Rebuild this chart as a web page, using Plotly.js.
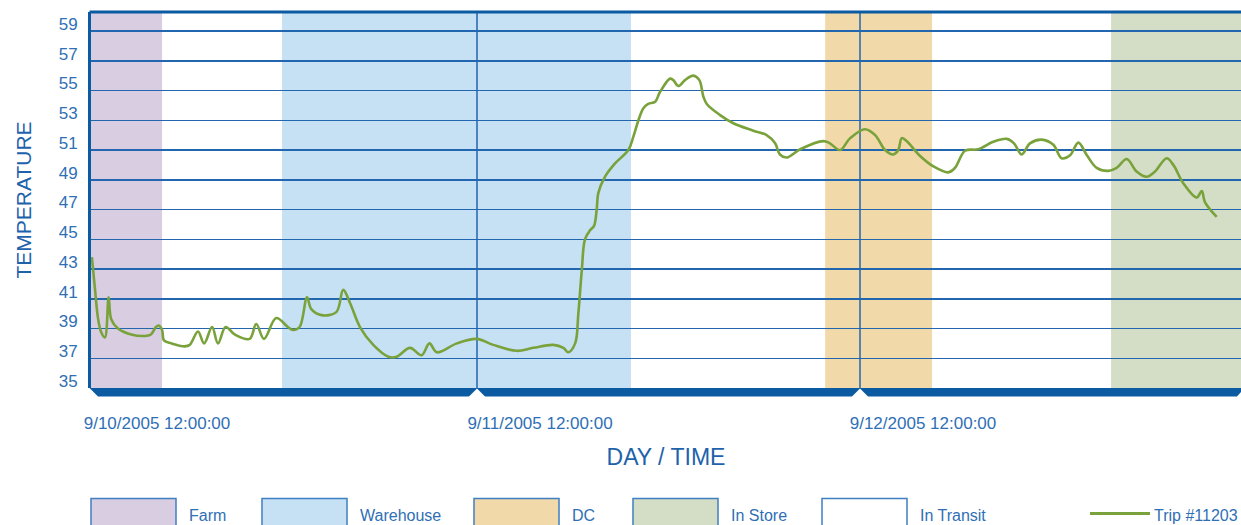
<!DOCTYPE html>
<html>
<head>
<meta charset="utf-8">
<script src="https://cdn.plot.ly/plotly-3.0.1.min.js"></script>
<style>
  html, body { margin: 0; padding: 0; background: #ffffff; }
  #chart { width: 1241px; height: 525px; }
</style>
</head>
<body>
<div id="chart"></div>
<script>
// ---------------- data ----------------
const tripName = 'Trip #11203';

const times = [
  '2005-09-10 11:52','2005-09-10 12:04','2005-09-10 12:15','2005-09-10 12:26','2005-09-10 12:41',
  '2005-09-10 12:55','2005-09-10 13:05','2005-09-10 13:30','2005-09-10 14:20','2005-09-10 15:11',
  '2005-09-10 15:34','2005-09-10 15:53','2005-09-10 16:03','2005-09-10 16:16','2005-09-10 16:23',
  '2005-09-10 16:51','2005-09-10 17:41','2005-09-10 18:00','2005-09-10 18:31','2005-09-10 18:54',
  '2005-09-10 19:24','2005-09-10 19:46','2005-09-10 20:15','2005-09-10 20:49','2005-09-10 21:45',
  '2005-09-10 22:10','2005-09-10 22:39','2005-09-10 23:25','2005-09-11 00:09','2005-09-11 00:28',
  '2005-09-11 00:53','2005-09-11 01:21','2005-09-11 01:37','2005-09-11 02:15','2005-09-11 03:11',
  '2005-09-11 03:37','2005-09-11 04:03','2005-09-11 04:40','2005-09-11 05:30','2005-09-11 06:27',
  '2005-09-11 06:58','2005-09-11 07:48','2005-09-11 08:32','2005-09-11 09:01','2005-09-11 09:29',
  '2005-09-11 10:44','2005-09-11 11:59','2005-09-11 13:01','2005-09-11 14:29','2005-09-11 15:32',
  '2005-09-11 16:47','2005-09-11 17:25','2005-09-11 17:43','2005-09-11 18:09','2005-09-11 18:21',
  '2005-09-11 18:34','2005-09-11 18:46','2005-09-11 19:05','2005-09-11 19:20','2005-09-11 19:30',
  '2005-09-11 19:36','2005-09-11 20:01','2005-09-11 20:39','2005-09-11 21:29','2005-09-11 21:48',
  '2005-09-11 22:07','2005-09-11 22:25','2005-09-11 22:44','2005-09-11 23:10','2005-09-11 23:28',
  '2005-09-12 00:06','2005-09-12 00:18','2005-09-12 00:37','2005-09-12 01:02','2005-09-12 01:33',
  '2005-09-12 01:56','2005-09-12 02:11','2005-09-12 02:24','2005-09-12 03:14','2005-09-12 04:04',
  '2005-09-12 05:19','2005-09-12 06:09','2005-09-12 06:41','2005-09-12 06:59','2005-09-12 07:25',
  '2005-09-12 08:15','2005-09-12 09:42','2005-09-12 10:07','2005-09-12 10:45','2005-09-12 11:23',
  '2005-09-12 12:19','2005-09-12 12:57','2005-09-12 13:34','2005-09-12 14:05','2005-09-12 14:24',
  '2005-09-12 14:37','2005-09-12 14:55','2005-09-12 15:46','2005-09-12 16:36','2005-09-12 17:32',
  '2005-09-12 17:57','2005-09-12 18:35','2005-09-12 19:25','2005-09-12 20:21','2005-09-12 21:12',
  '2005-09-12 21:39','2005-09-12 22:08','2005-09-12 22:39','2005-09-12 23:23','2005-09-13 00:07',
  '2005-09-13 00:38','2005-09-13 01:10','2005-09-13 01:41','2005-09-13 02:13','2005-09-13 02:50',
  '2005-09-13 03:34','2005-09-13 04:05','2005-09-13 04:43','2005-09-13 05:20','2005-09-13 05:58',
  '2005-09-13 06:29','2005-09-13 07:13','2005-09-13 07:38','2005-09-13 08:16','2005-09-13 09:06',
  '2005-09-13 09:25','2005-09-13 09:37','2005-09-13 10:21'
];

const temps = [
  43.8, 41.6, 39.7, 38.8, 38.4,
  41.1, 39.6, 39.0, 38.6, 38.5,
  38.6, 39.1, 39.2, 38.9, 38.2,
  38.0, 37.8, 37.9, 38.8, 38.0,
  39.1, 38.0, 39.1, 38.6, 38.3,
  39.3, 38.3, 39.7, 39.1, 38.9,
  39.1, 41.1, 40.3, 39.9, 40.1,
  41.6, 40.7, 39.1, 37.9, 37.1,
  37.1, 37.7, 37.2, 38.0, 37.4,
  38.0, 38.3, 37.9, 37.5, 37.7,
  37.9, 37.7, 37.4, 38.0, 40.0,
  42.9, 45.0, 45.6, 45.9, 47.0,
  48.1, 49.2, 50.1, 51.0, 51.9,
  53.0, 53.8, 54.1, 54.25, 54.9,
  55.8, 55.7, 55.3, 55.7, 56.0,
  55.7, 54.6, 54.1, 53.35, 52.8,
  52.3, 52.0, 51.45, 50.7, 50.5,
  51.05, 51.6, 51.45, 51.0, 51.8,
  52.4, 52.0, 51.0, 50.7, 51.0,
  51.8, 51.6, 50.6, 49.9, 49.5,
  49.8, 50.95, 51.05, 51.55, 51.75,
  51.45, 50.7, 51.45, 51.7, 51.35,
  50.45, 50.65, 51.5, 50.65, 49.8,
  49.6, 49.8, 50.4, 49.55, 49.2,
  49.55, 50.45, 50.0, 48.75, 47.8,
  48.25, 47.5, 46.5
];

// phases (shaded bands)
const phaseNames  = ['Farm', 'Warehouse', 'DC', 'In Store'];
const phaseStart  = ['2005-09-10 11:48', '2005-09-10 23:47', '2005-09-12 09:49', '2005-09-13 03:44'];
const phaseEnd    = ['2005-09-10 16:16', '2005-09-11 21:39', '2005-09-12 16:31', '2005-09-13 11:53'];
const phaseColors = ['#d8cde1', '#c6e0f4', '#f1d9aa', '#d4ddc5'];

// legend items
const legendNames  = ['Farm', 'Warehouse', 'DC', 'In Store', 'In Transit'];
const legendColors = ['#d8cde1', '#c6e0f4', '#f1d9aa', '#d4ddc5', '#ffffff'];

// axes
const xRange    = ['2005-09-10 11:48:43', '2005-09-13 11:52:30'];
const tickVals  = ['2005-09-10 12:00', '2005-09-11 12:00', '2005-09-12 12:00'];
const tickText  = ['9/10/2005 12:00:00', '9/11/2005 12:00:00', '9/12/2005 12:00:00'];
const yTicks    = [35, 37, 39, 41, 43, 45, 47, 49, 51, 53, 55, 57, 59];
const yRange    = [35, 60.28];

// ---------------- layout helpers ----------------
const FONT = '"Liberation Sans", Arial, sans-serif';
const BLUE_TXT = '#2f6fb5';
const BLUE_TITLE = '#1d62ab';
const BLUE_DARK = '#0b5ba2';
const GRID = '#2166ae';
const L = 91, W = 1150, T = 12, H = 376;
const pxX = px => (px - L) / W;
const pxY = py => (T + H - py) / H;
const tms = s => new Date(s.replace(' ', 'T')).getTime();
const dateFrac = s => (tms(s) - tms(xRange[0])) / (tms(xRange[1]) - tms(xRange[0]));

const shapes = [];
// bands
phaseNames.forEach((n, i) => {
  shapes.push({type: 'rect', xref: 'x', yref: 'paper', x0: phaseStart[i], x1: phaseEnd[i],
    y0: 0, y1: 1, fillcolor: phaseColors[i], line: {width: 0}, layer: 'below'});
});
// vertical day lines (skip the one hidden by the left border)
tickVals.slice(1).forEach(v => {
  shapes.push({type: 'line', xref: 'x', yref: 'paper', x0: v, x1: v, y0: 0, y1: 1,
    line: {color: GRID, width: 1.5}, layer: 'between'});
});
// top border
shapes.push({type: 'line', xref: 'paper', yref: 'paper', x0: pxX(89.5), x1: 1, y0: 1, y1: 1,
  line: {color: BLUE_DARK, width: 3}, layer: 'above'});
// bottom base bar
const bBot = pxY(396.5), bMid = pxY(392);
shapes.push({type: 'path', xref: 'paper', yref: 'paper', layer: 'above',
  path: `M ${pxX(89.5)},0 L 1,0 L 1,${bMid} L ${pxX(1237)},${bBot} L ${pxX(98)},${bBot} Z`,
  fillcolor: BLUE_DARK, line: {width: 0}});
// notches at day ticks
tickVals.slice(1).forEach(v => {
  const f = dateFrac(v);
  const hw = 8.5 / W;
  shapes.push({type: 'path', xref: 'paper', yref: 'paper', layer: 'above',
    path: `M ${f},${pxY(388.5)} L ${f + hw},${pxY(397)} L ${f - hw},${pxY(397)} Z`,
    fillcolor: '#ffffff', line: {width: 0}});
});
// legend boxes
const legBoxLeft = [91, 262, 474, 633, 822];
const annotations = [];
legendNames.forEach((n, i) => {
  shapes.push({type: 'rect', xref: 'paper', yref: 'paper',
    x0: pxX(legBoxLeft[i]), x1: pxX(legBoxLeft[i] + 85), y0: pxY(498.5), y1: pxY(535),
    fillcolor: legendColors[i], line: {color: '#3f7fc2', width: 1.5}, layer: 'above'});
  annotations.push({xref: 'paper', yref: 'paper', x: pxX(legBoxLeft[i] + 96), y: pxY(515),
    xanchor: 'left', yanchor: 'middle', showarrow: false, text: n,
    font: {family: FONT, size: 16, color: BLUE_TXT}});
});
// legend line for trip
shapes.push({type: 'line', xref: 'paper', yref: 'paper', x0: pxX(1090), x1: pxX(1150),
  y0: pxY(513.5), y1: pxY(513.5), line: {color: '#79a23b', width: 3}, layer: 'above'});
annotations.push({xref: 'paper', yref: 'paper', x: pxX(1240), y: pxY(515),
  xanchor: 'right', yanchor: 'middle', showarrow: false, text: tripName,
  font: {family: FONT, size: 16, color: BLUE_TXT}});

const trace = {
  type: 'scatter', mode: 'lines', x: times, y: temps, name: tripName,
  line: {color: '#79a23b', width: 2.6, shape: 'spline', smoothing: 1},
  showlegend: false, hoverinfo: 'x+y'
};

const layout = {
  width: 1241, height: 525,
  margin: {l: L, r: 0, t: T, b: 525 - T - H, pad: 0},
  paper_bgcolor: '#ffffff', plot_bgcolor: '#ffffff',
  showlegend: false,
  font: {family: FONT, color: BLUE_TXT},
  xaxis: {
    type: 'date', range: xRange, tickmode: 'array', tickvals: tickVals, ticktext: tickText,
    showgrid: false, zeroline: false,
    showline: false, ticks: '', ticklabelshift: 63, ticklabelstandoff: 23,
    tickfont: {family: FONT, size: 17, color: BLUE_TXT},
    title: {text: 'DAY / TIME', standoff: 16, font: {family: FONT, size: 23, color: BLUE_TITLE}},
    automargin: false, fixedrange: true
  },
  yaxis: {
    range: yRange, tickmode: 'array', tickvals: yTicks,
    showgrid: true, gridcolor: GRID, gridwidth: 1.5, zeroline: false,
    showline: true, linecolor: BLUE_DARK, linewidth: 3, ticks: '',
    ticklabelshift: -7, ticklabelstandoff: 7,
    tickfont: {family: FONT, size: 17, color: BLUE_TXT},
    title: {text: 'TEMPERATURE', standoff: 22, font: {family: FONT, size: 21, color: BLUE_TITLE}},
    automargin: false, fixedrange: true
  },
  shapes: shapes,
  annotations: annotations
};

Plotly.newPlot('chart', [trace], layout, {displayModeBar: false, staticPlot: true});
</script>
</body>
</html>
